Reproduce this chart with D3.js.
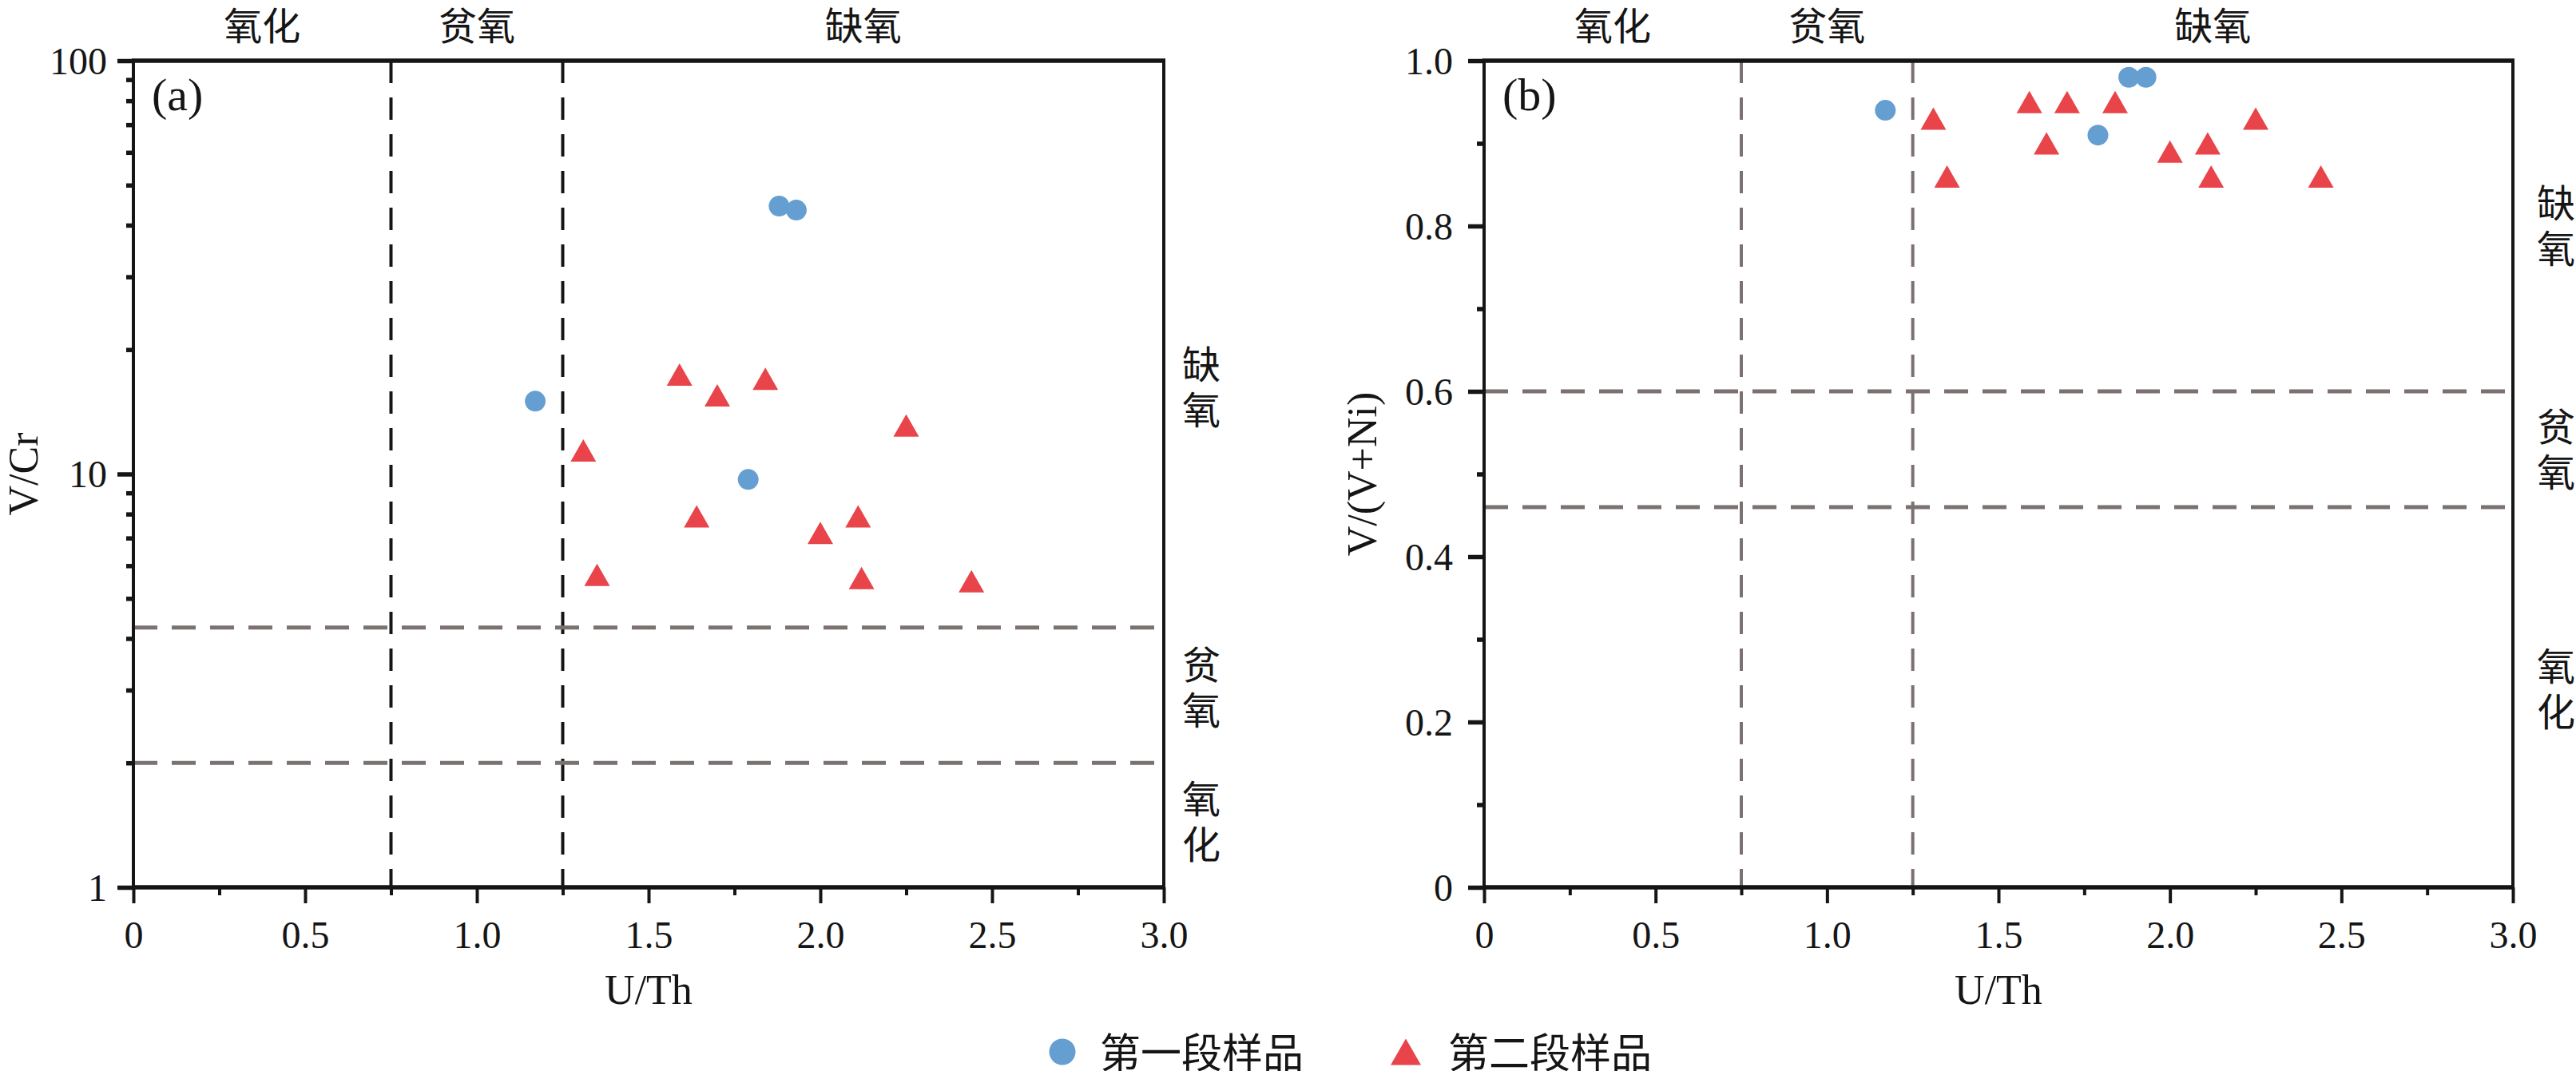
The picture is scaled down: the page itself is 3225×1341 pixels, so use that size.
<!DOCTYPE html>
<html>
<head>
<meta charset="utf-8">
<script src="https://cdn.jsdelivr.net/npm/d3@7"></script>
<style>
  body { margin: 0; background: #fff; }
  svg { display: block; }
</style>
</head>
<body>
<div id="chart"></div>
<script>
// samples, stage 1 (circles) and stage 2 (triangles)
var uTh1 = [1.17, 1.79, 1.88, 1.93];
var vCr1 = [15.0, 9.7, 44.5, 43.5];
var vVNi1 = [0.94, 0.91, 0.98, 0.98];

var uTh2 = [1.31, 1.35, 1.59, 1.64, 1.70, 1.84, 2.00, 2.11, 2.12, 2.25, 2.44];
var vCr2 = [11.4, 5.7, 17.4, 7.9, 15.5, 17.0, 7.2, 7.9, 5.6, 13.1, 5.5];
var vVNi2 = [0.93, 0.86, 0.95, 0.90, 0.95, 0.95, 0.89, 0.90, 0.86, 0.93, 0.86];

// thresholds
var uThLimits = [0.75, 1.25];
var vCrLimits = [2, 4.25];
var vVNiLimits = [0.46, 0.60];

// ticks
var xMajor = [0, 0.5, 1.0, 1.5, 2.0, 2.5, 3.0];
var xMinor = [0.25, 0.75, 1.25, 1.75, 2.25, 2.75];
var logMajor = [1, 10, 100];
var logMinor = [2, 3, 4, 5, 6, 7, 8, 9, 20, 30, 40, 50, 60, 70, 80, 90];
var linMajor = [0, 0.2, 0.4, 0.6, 0.8, 1.0];
var linMinor = [0.1, 0.3, 0.5, 0.7, 0.9];

// zone names: oxic, dysoxic, anoxic
var zones = ['氧化', '贫氧', '缺氧'];
var zoneMidU = [0.375, 1.0, 2.125];
var zoneMidVCr = [1.44, 3.05, 16.2];
var zoneMidVVNi = [0.24, 0.53, 0.80];

var seriesNames = ['第一段样品', '第二段样品'];

var W = 3225, H = 1341;
var top0 = 76, bot0 = 1111;
var blue = '#659fd1';
var red = '#e8444a';
var grey = '#7b7171';
var ink = '#151515';
var serif = '"Liberation Serif", "Times New Roman", serif';
var cjk = '"Noto Sans CJK SC", sans-serif';

var svg = d3.select('#chart').append('svg')
  .attr('width', W)
  .attr('height', H);

svg.append('rect')
  .attr('width', W)
  .attr('height', H)
  .attr('fill', '#fff');

function triPath(w, h) {
  return 'M0,' + (-h / 2) + 'L' + (w / 2) + ',' + (h / 2) + 'L' + (-w / 2) + ',' + (h / 2) + 'Z';
}

function fmtLin(d) { return d === 0 ? '0' : d.toFixed(1); }

function drawPanel(p) {
  var x = d3.scaleLinear().domain([0, 3]).range([p.left, p.right]);
  var y = p.y;
  var g = svg.append('g');

  // threshold lines
  uThLimits.forEach(function(v) {
    g.append('line')
      .attr('x1', x(v)).attr('x2', x(v))
      .attr('y1', top0).attr('y2', bot0)
      .attr('stroke', p.vColor)
      .attr('stroke-width', 4)
      .attr('stroke-dasharray', '28 18');
  });
  p.limits.forEach(function(v) {
    g.append('line')
      .attr('x1', p.left).attr('x2', p.right)
      .attr('y1', y(v)).attr('y2', y(v))
      .attr('stroke', grey)
      .attr('stroke-width', 5)
      .attr('stroke-dasharray', '30 18');
  });

  // points
  g.selectAll('.c').data(d3.zip(uTh1, p.ys1)).enter().append('circle')
    .attr('cx', function(d) { return x(d[0]); })
    .attr('cy', function(d) { return y(d[1]); })
    .attr('r', 13)
    .attr('fill', blue);
  g.selectAll('.t').data(d3.zip(uTh2, p.ys2)).enter().append('path')
    .attr('d', triPath(32, 28))
    .attr('transform', function(d) { return 'translate(' + x(d[0]) + ',' + y(d[1]) + ')'; })
    .attr('fill', red);

  // x axis
  var xa = g.append('g').attr('transform', 'translate(0,' + bot0 + ')');
  xa.call(d3.axisBottom(x).tickValues(xMajor).tickSize(20).tickPadding(22).tickFormat(fmtLin));
  xa.append('g').call(d3.axisBottom(x).tickValues(xMinor).tickSize(10).tickFormat(''));
  // y axis
  var ya = g.append('g').attr('transform', 'translate(' + p.left + ',0)');
  ya.call(d3.axisLeft(y).tickValues(p.major).tickSize(20).tickPadding(p.pad).tickFormat(p.fmt));
  ya.append('g').call(d3.axisLeft(y).tickValues(p.minor).tickSize(9).tickFormat(''));

  xa.selectAll('.domain').remove();
  ya.selectAll('.domain').remove();
  xa.selectAll('line').attr('stroke', ink).attr('stroke-width', 4);
  ya.selectAll('line').attr('stroke', ink).attr('stroke-width', 5.5);
  g.selectAll('.tick text')
    .attr('fill', ink)
    .style('font-family', serif)
    .style('font-size', '48px');
  ya.selectAll('.tick text').attr('dy', '0.34em');

  // frame
  g.append('line').attr('x1', p.left - 2).attr('x2', p.right + 2).attr('y1', top0).attr('y2', top0)
    .attr('stroke', ink).attr('stroke-width', 5.5);
  g.append('line').attr('x1', p.left - 2).attr('x2', p.right + 2).attr('y1', bot0).attr('y2', bot0)
    .attr('stroke', ink).attr('stroke-width', 5.5);
  g.append('line').attr('x1', p.left).attr('x2', p.left).attr('y1', top0).attr('y2', bot0)
    .attr('stroke', ink).attr('stroke-width', 4);
  g.append('line').attr('x1', p.right).attr('x2', p.right).attr('y1', top0).attr('y2', bot0)
    .attr('stroke', ink).attr('stroke-width', 4);

  // panel tag
  g.append('text')
    .attr('x', p.left + 23).attr('y', 138)
    .attr('fill', ink)
    .style('font-family', serif).style('font-size', '58px')
    .text(p.tag);

  // axis titles
  g.append('text')
    .attr('x', (p.left + p.right) / 2).attr('y', 1257)
    .attr('text-anchor', 'middle')
    .attr('fill', ink)
    .style('font-family', serif).style('font-size', '52px')
    .text('U/Th');
  g.append('text')
    .attr('transform', 'translate(' + p.titleX + ',' + ((top0 + bot0) / 2) + ') rotate(-90)')
    .attr('text-anchor', 'middle')
    .attr('dominant-baseline', 'central')
    .attr('fill', ink)
    .style('font-family', serif).style('font-size', '52px')
    .text(p.title);

  // zone labels on top
  zones.forEach(function(z, i) {
    g.append('text')
      .attr('x', x(zoneMidU[i])).attr('y', 29)
      .attr('text-anchor', 'middle')
      .attr('dominant-baseline', 'central')
      .attr('fill', ink)
      .style('font-family', cjk).style('font-size', '48px')
      .text(z);
  });
  // zone labels on the right, written vertically
  zones.forEach(function(z, i) {
    g.append('text')
      .attr('x', p.zoneX).attr('y', y(p.zoneMid[i]) + 4)
      .attr('text-anchor', 'middle')
      .attr('fill', ink)
      .style('writing-mode', 'vertical-rl')
      .style('letter-spacing', '9px')
      .style('font-family', cjk).style('font-size', '48px')
      .text(z);
  });
}

drawPanel({
  left: 167, right: 1457,
  y: d3.scaleLog().domain([1, 100]).range([bot0, top0]),
  major: logMajor, minor: logMinor, fmt: d3.format('d'), pad: 13,
  limits: vCrLimits, vColor: ink,
  ys1: vCr1, ys2: vCr2,
  zoneMid: zoneMidVCr, zoneX: 1504,
  tag: '(a)', title: 'V/Cr', titleX: 29
});

drawPanel({
  left: 1858, right: 3146,
  y: d3.scaleLinear().domain([0, 1]).range([bot0, top0]),
  major: linMajor, minor: linMinor, fmt: fmtLin, pad: 19,
  limits: vVNiLimits, vColor: grey,
  ys1: vVNi1, ys2: vVNi2,
  zoneMid: zoneMidVVNi, zoneX: 3200,
  tag: '(b)', title: 'V/(V+Ni)', titleX: 1705
});

// legend
var lg = svg.append('g');
lg.append('circle')
  .attr('cx', 1330).attr('cy', 1317).attr('r', 16.5)
  .attr('fill', blue);
lg.append('path')
  .attr('d', triPath(38, 33))
  .attr('transform', 'translate(1760,1317)')
  .attr('fill', red);
[1377, 1813].forEach(function(lx, i) {
  lg.append('text')
    .attr('x', lx).attr('y', 1315)
    .attr('dominant-baseline', 'central')
    .attr('fill', ink)
    .style('font-family', cjk).style('font-size', '51px')
    .text(seriesNames[i]);
});
</script>
</body>
</html>
